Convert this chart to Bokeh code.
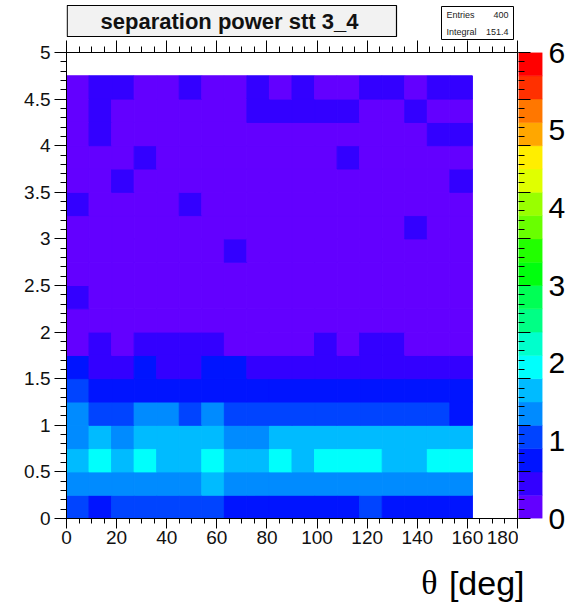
import numpy as np
from bokeh.plotting import figure
from bokeh.models import (Range1d, LinearAxis, FixedTicker, LinearColorMapper,
                          ColumnDataSource, CustomJSTickFormatter)
from bokeh.layouts import row, column
from bokeh.core.properties import value
from bokeh.embed import file_html
from bokeh.resources import INLINE

# ---------------- data ----------------
theta_bin_centers = [4.5, 13.5, 22.5, 31.5, 40.5, 49.5, 58.5, 67.5, 76.5,
                     85.5, 94.5, 103.5, 112.5, 121.5, 130.5, 139.5, 148.5, 157.5]
theta_bin_width = 9.0
p_bin_centers = [0.125, 0.375, 0.625, 0.875, 1.125, 1.375, 1.625, 1.875, 2.125,
                 2.375, 2.625, 2.875, 3.125, 3.375, 3.625, 3.875, 4.125, 4.375, 4.625]
p_bin_height = 0.25

# separation power, one list per y bin (bottom to top), 18 theta bins each
separation = [
    [0.95, 0.65, 0.95, 0.95, 0.95, 0.95, 0.95, 0.65, 0.65, 0.65, 0.65, 0.65, 0.65, 0.95, 0.65, 0.65, 0.65, 0.65],
    [1.25, 1.25, 1.25, 1.25, 1.25, 1.25, 1.55, 1.25, 1.25, 1.25, 1.25, 1.25, 1.25, 1.25, 1.25, 1.25, 1.25, 1.25],
    [1.55, 1.85, 1.55, 1.85, 1.55, 1.55, 1.85, 1.55, 1.55, 1.85, 1.55, 1.85, 1.85, 1.85, 1.55, 1.55, 1.85, 1.85],
    [1.25, 1.55, 1.25, 1.55, 1.55, 1.55, 1.55, 1.25, 1.25, 1.55, 1.55, 1.55, 1.55, 1.55, 1.55, 1.55, 1.55, 1.55],
    [1.25, 0.95, 0.95, 1.25, 1.25, 0.95, 1.25, 0.95, 0.95, 0.95, 0.95, 0.95, 0.95, 0.95, 0.95, 0.95, 0.95, 0.65],
    [0.95, 0.65, 0.65, 0.65, 0.65, 0.65, 0.65, 0.65, 0.65, 0.65, 0.65, 0.65, 0.65, 0.65, 0.65, 0.65, 0.65, 0.65],
    [0.65, 0.35, 0.35, 0.65, 0.35, 0.35, 0.65, 0.65, 0.35, 0.35, 0.35, 0.35, 0.35, 0.35, 0.35, 0.35, 0.35, 0.35],
    [0.08, 0.35, 0.08, 0.35, 0.35, 0.35, 0.35, 0.08, 0.08, 0.08, 0.08, 0.35, 0.08, 0.35, 0.35, 0.08, 0.08, 0.08],
    [0.08, 0.08, 0.08, 0.08, 0.08, 0.08, 0.08, 0.08, 0.08, 0.08, 0.08, 0.08, 0.08, 0.08, 0.08, 0.08, 0.08, 0.08],
    [0.35, 0.06, 0.06, 0.06, 0.06, 0.06, 0.06, 0.06, 0.06, 0.06, 0.06, 0.06, 0.06, 0.06, 0.06, 0.06, 0.06, 0.06],
    [0.06, 0.06, 0.06, 0.06, 0.06, 0.06, 0.06, 0.06, 0.06, 0.06, 0.06, 0.06, 0.06, 0.06, 0.06, 0.06, 0.06, 0.06],
    [0.06, 0.06, 0.06, 0.06, 0.06, 0.06, 0.06, 0.35, 0.06, 0.06, 0.06, 0.06, 0.06, 0.06, 0.06, 0.06, 0.06, 0.06],
    [0.06, 0.06, 0.06, 0.06, 0.06, 0.06, 0.06, 0.06, 0.06, 0.06, 0.06, 0.06, 0.06, 0.06, 0.06, 0.35, 0.06, 0.06],
    [0.35, 0.06, 0.06, 0.06, 0.06, 0.35, 0.06, 0.06, 0.06, 0.06, 0.06, 0.06, 0.06, 0.06, 0.06, 0.06, 0.06, 0.06],
    [0.06, 0.06, 0.35, 0.06, 0.06, 0.06, 0.06, 0.06, 0.06, 0.06, 0.06, 0.06, 0.06, 0.06, 0.06, 0.06, 0.06, 0.35],
    [0.06, 0.06, 0.06, 0.35, 0.06, 0.06, 0.06, 0.06, 0.06, 0.06, 0.06, 0.06, 0.35, 0.06, 0.06, 0.06, 0.06, 0.06],
    [0.06, 0.35, 0.06, 0.06, 0.06, 0.06, 0.06, 0.06, 0.06, 0.06, 0.06, 0.06, 0.06, 0.06, 0.06, 0.06, 0.35, 0.35],
    [0.06, 0.35, 0.06, 0.06, 0.06, 0.06, 0.06, 0.06, 0.35, 0.35, 0.35, 0.35, 0.35, 0.06, 0.06, 0.35, 0.06, 0.06],
    [0.06, 0.35, 0.35, 0.06, 0.06, 0.35, 0.06, 0.06, 0.35, 0.06, 0.35, 0.06, 0.06, 0.35, 0.35, 0.06, 0.35, 0.35],
]

x_ticks = [0, 20, 40, 60, 80, 100, 120, 140, 160, 180]
y_ticks = [0, 0.5, 1, 1.5, 2, 2.5, 3, 3.5, 4, 4.5, 5]
z_ticks = [0, 1, 2, 3, 4, 5, 6]
z_low, z_high = 0, 6
title_text = "separation power stt 3_4"
stats_names = ["Entries", "Integral"]
stats_values = ["400", "151.4"]
x_title_symbol = "\u03b8"
x_title_unit = "[deg]"

# ROOT-like 20-step palette (violet -> red)
palette = ["#6300FF", "#3300FF", "#0014FF", "#0044FF", "#008BFF", "#00BBFF",
           "#00FFFC", "#00FFCC", "#00FF85", "#00FF55", "#00FF0E", "#22FF00",
           "#69FF00", "#99FF00", "#E0FF00", "#FFEE00", "#FFA700", "#FF7700",
           "#FF3000", "#FF0000"]

# ---------------- layout constants (pixels) ----------------
W, H = 577, 607
LEFT_W = 518
FRAME_L, FRAME_R = 66, 517
TOP_H, BOT_H = 40, 45
MID_H = H - TOP_H - BOT_H
FONT = "Liberation Sans"
LBL_SIZE = "19px"

# ---------------- build source ----------------
xs, ys, vs = [], [], []
for j, yc in enumerate(p_bin_centers):
    for i, xc in enumerate(theta_bin_centers):
        xs.append(xc)
        ys.append(yc)
        vs.append(separation[j][i])
src = ColumnDataSource(dict(x=xs, y=ys, v=vs))
mapper = LinearColorMapper(palette=palette, low=z_low, high=z_high)


def bare(fig):
    fig.grid.visible = False
    fig.background_fill_color = "white"
    fig.border_fill_color = "white"
    return fig


# ---------------- top strip: title + stats box (x in page pixels) ----------------
top = bare(figure(width=LEFT_W, height=TOP_H, x_range=Range1d(FRAME_L, FRAME_R),
                  y_range=Range1d(TOP_H, 0),
                  output_backend="svg", toolbar_location=None,
                  x_axis_location=None, y_axis_location=None,
                  min_border_left=FRAME_L, min_border_right=LEFT_W - FRAME_R,
                  min_border_top=0, min_border_bottom=0))
top.outline_line_color = None
top.quad(left=[66.7], right=[396], top=[5], bottom=[36],
         fill_color="#F2F2F2", line_color="black", line_width=1.2)
top.text(x=[229], y=[21], text=[title_text], text_align="center", text_baseline="middle",
         text_font=value(FONT), text_font_size="22px", text_font_style="bold",
         text_color="#111111")
top.quad(left=[441], right=[513], top=[6], bottom=[39],
         fill_color="white", line_color="black", line_width=1)
top.text(x=[446, 446], y=[14, 31], text=stats_names, text_align="left", text_baseline="middle",
         text_font=value(FONT), text_font_size="9px", text_color="#222222")
top.text(x=[508, 508], y=[14, 31], text=stats_values, text_align="right", text_baseline="middle",
         text_font=value(FONT), text_font_size="9px", text_color="#222222")

# ---------------- main histogram ----------------
p = bare(figure(width=LEFT_W, height=MID_H, x_range=Range1d(0, 180), y_range=Range1d(0, 5),
                output_backend="svg", toolbar_location=None,
                x_axis_location=None, y_axis_location=None,
                min_border_left=FRAME_L, min_border_right=LEFT_W - FRAME_R,
                min_border_top=12, min_border_bottom=44))
p.outline_line_color = "black"

p.rect(x="x", y="y", width=theta_bin_width, height=p_bin_height, source=src,
       fill_color={"field": "v", "transform": mapper},
       line_color={"field": "v", "transform": mapper}, line_width=1)

x_minor = list(range(0, 181, 5))
y_minor = [round(0.1 * k, 1) for k in range(0, 51)]


def style_axis(ax, major=12, minor=6):
    ax.axis_line_color = "black"
    ax.major_tick_line_color = "black"
    ax.minor_tick_line_color = "black"
    ax.major_tick_in = 0
    ax.minor_tick_in = 0
    ax.major_tick_out = major
    ax.minor_tick_out = minor
    ax.major_label_text_font = FONT
    ax.major_label_text_font_size = LBL_SIZE
    ax.major_label_text_color = "#111111"


xb = LinearAxis(ticker=FixedTicker(ticks=x_ticks, minor_ticks=x_minor))
style_axis(xb, 10, 5)
xb.major_label_standoff = 2
p.add_layout(xb, "below")

xt = LinearAxis(ticker=FixedTicker(ticks=x_ticks, minor_ticks=x_minor),
                formatter=CustomJSTickFormatter(code="return '';"))
style_axis(xt)
xt.major_label_text_font_size = "0px"
xt.major_label_standoff = 0
p.add_layout(xt, "above")

yl = LinearAxis(ticker=FixedTicker(ticks=y_ticks, minor_ticks=y_minor),
                formatter=CustomJSTickFormatter(code="return String(Math.round(tick*10)/10);"))
style_axis(yl)
yl.major_label_standoff = 4
p.add_layout(yl, "left")

# ---------------- colour bar (full height of top strip + histogram) ----------------
z_edges = [z_low + (z_high - z_low) * k / len(palette) for k in range(len(palette) + 1)]
cb = bare(figure(width=W - LEFT_W, height=TOP_H + MID_H, x_range=Range1d(0, 1),
                 y_range=Range1d(z_low, z_high),
                 output_backend="svg", toolbar_location=None,
                 x_axis_location=None, y_axis_location=None,
                 min_border_left=0, min_border_right=35, min_border_top=TOP_H + 12,
                 min_border_bottom=44))
cb.outline_line_color = None
cb.quad(left=0, right=1, bottom=z_edges[:-1], top=z_edges[1:],
        fill_color=palette, line_color=palette, line_width=0.5)

# right-hand y ticks of the histogram frame (0.1 steps in y = 0.12 in z)
scale = (z_high - z_low) / 5.0
cb_major = [round(t * scale, 4) for t in y_ticks]
cb_minor = [round(t * scale, 4) for t in y_minor]
cl = LinearAxis(ticker=FixedTicker(ticks=cb_major, minor_ticks=cb_minor),
                formatter=CustomJSTickFormatter(code="return '';"))
cl.axis_line_color = None
cl.major_tick_line_color = "black"
cl.minor_tick_line_color = "black"
cl.major_tick_out = 0
cl.minor_tick_out = 0
cl.major_tick_in = 12
cl.minor_tick_in = 6
cl.major_label_standoff = 0
cl.major_label_text_font_size = "0px"
cb.add_layout(cl, "left")

cr = LinearAxis(ticker=FixedTicker(ticks=z_ticks))
cr.axis_line_color = None
cr.major_tick_line_color = None
cr.minor_tick_line_color = None
cr.major_tick_out = 0
cr.major_tick_in = 0
cr.major_label_standoff = 6
cr.major_label_text_font = FONT
cr.major_label_text_font_size = "30px"
cr.major_label_text_color = "black"
cb.add_layout(cr, "right")

# ---------------- bottom strip: x axis title ----------------
bot = bare(figure(width=W, height=BOT_H, x_range=Range1d(0, W), y_range=Range1d(BOT_H, 0),
                  output_backend="svg", toolbar_location=None,
                  x_axis_location=None, y_axis_location=None,
                  min_border_left=0, min_border_right=0, min_border_top=0, min_border_bottom=0))
bot.outline_line_color = None
bot.text(x=[524], y=[20], text=[x_title_unit], text_align="right", text_baseline="middle",
         text_font=value(FONT), text_font_size="34px", text_color="black")
bot.text(x=[437], y=[20], text=[x_title_symbol], text_align="right", text_baseline="middle",
         text_font=value("Liberation Serif"), text_font_size="34px", text_color="black")

layout = column(row(column(top, p), cb), bot)
open("out.html", "w").write(file_html(layout, INLINE))
